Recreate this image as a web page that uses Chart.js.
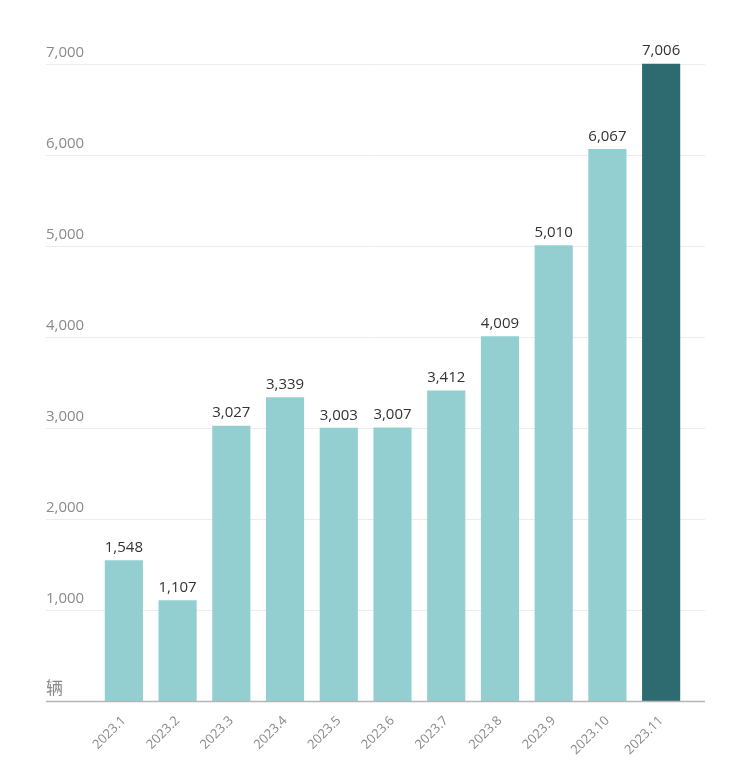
<!DOCTYPE html>
<html>
<head>
<meta charset="utf-8">
<script src="https://cdn.jsdelivr.net/npm/chart.js@4"></script>
<style>
  html, body { margin: 0; padding: 0; background: #fff; }
  #wrap { width: 730px; height: 769px; }
</style>
</head>
<body>
<div id="wrap"><canvas id="c"></canvas></div>
<script>
const months = ['2023.1', '2023.2', '2023.3', '2023.4', '2023.5', '2023.6', '2023.7', '2023.8', '2023.9', '2023.10', '2023.11'];
const sales = [1548, 1107, 3027, 3339, 3003, 3007, 3412, 4009, 5010, 6067, 7006];
const yTicks = [1000, 2000, 3000, 4000, 5000, 6000, 7000];
const unitLabel = '辆';

const FONT = '"Open Sans", "Noto Sans CJK SC", sans-serif';

// gridlines + y labels drawn wider than the bar area
const gridPlugin = {
    id: 'grid',
    beforeDatasetsDraw(chart) {
        const { ctx } = chart;
        const y = chart.scales.y;
        const left = 46, right = 705;
        ctx.save();
        ctx.font = '15px ' + FONT;
        ctx.textAlign = 'left';
        ctx.textBaseline = 'bottom';
        yTicks.forEach(v => {
            const py = Math.round(y.getPixelForValue(v)) + 0.5;
            ctx.strokeStyle = '#ececec';
            ctx.lineWidth = 1;
            ctx.beginPath(); ctx.moveTo(left, py); ctx.lineTo(right, py); ctx.stroke();
            ctx.fillStyle = '#8a8a8a';
            ctx.fillText(v.toLocaleString('en-US'), left, py - 4);
        });
        const base = Math.round(y.getPixelForValue(0)) + 0.5;
        ctx.fillStyle = '#8a8a8a';
        ctx.font = '17px ' + FONT;
        ctx.fillText(unitLabel, left, base - 4);
        ctx.restore();
    },
    afterDatasetsDraw(chart) {
        const { ctx } = chart;
        const y = chart.scales.y;
        const base = Math.round(y.getPixelForValue(0)) + 0.5;
        ctx.save();
        ctx.strokeStyle = '#b5b5b5';
        ctx.lineWidth = 1.5;
        ctx.beginPath(); ctx.moveTo(46, base); ctx.lineTo(705, base); ctx.stroke();
        // value labels
        ctx.font = '15px ' + FONT;
        ctx.fillStyle = '#333';
        ctx.textAlign = 'center';
        ctx.textBaseline = 'bottom';
        chart.getDatasetMeta(0).data.forEach((bar, i) => {
            ctx.fillText(sales[i].toLocaleString('en-US'), bar.x, bar.y - 5);
        });
        ctx.restore();
    }
};

new Chart(document.getElementById('c'), {
    type: 'bar',
    data: {
        labels: months,
        datasets: [{
            data: sales,
            backgroundColor: sales.map((v, i) => i === sales.length - 1 ? '#2e6b70' : '#93cfd1'),
            barPercentage: 0.71,
            categoryPercentage: 1
        }]
    },
    options: {
        responsive: true,
        maintainAspectRatio: false,
        animation: false,
        layout: { padding: { left: 97, right: 42, top: 46, bottom: 0 } },
        plugins: { legend: { display: false }, tooltip: { enabled: false } },
        scales: {
            x: {
                grid: { display: false },
                border: { display: false },
                ticks: {
                    color: '#8a8a8a',
                    font: { family: FONT, size: 13 },
                    minRotation: 45,
                    maxRotation: 45,
                    padding: 4
                },
                afterFit(scale) { scale.height = 68; }
            },
            y: {
                display: false,
                min: 0,
                max: 7200
            }
        }
    },
    plugins: [gridPlugin]
});
</script>
</body>
</html>
